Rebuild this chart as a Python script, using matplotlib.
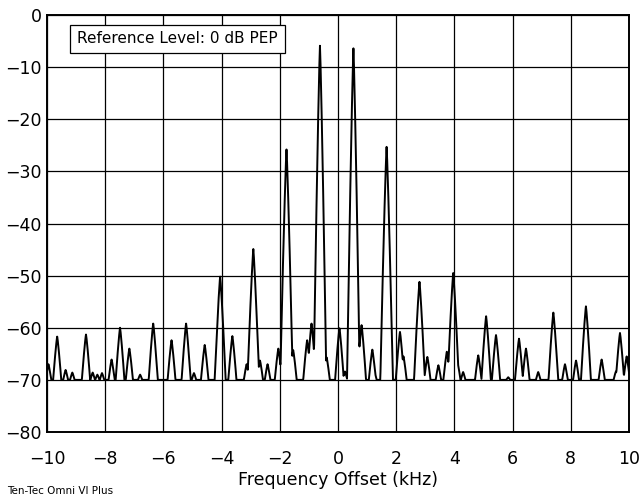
import numpy as np
import matplotlib
matplotlib.use("Agg")
import matplotlib.pyplot as plt

plt.rcParams['font.family'] = ['DejaVu Sans']

# spectral lines: offset (kHz) and level (dB rel. PEP)
peak_khz = [-9.95, -9.65, -9.36, -9.13, -8.66, -8.43, -8.27, -8.11, -7.78, -7.49,
            -7.17, -6.80, -6.35, -5.72, -5.22, -4.95, -4.58, -4.05, -3.63, -3.14,
            -2.91, -2.68, -2.42, -2.05, -1.77, -1.54, -1.06, -0.91, -0.62, -0.39,
            0.05, 0.24, 0.53, 0.81, 1.18, 1.25, 1.67, 2.13, 2.25, 2.80,
            3.07, 3.45, 3.74, 3.96, 4.11, 4.30, 4.82, 5.09, 5.43, 5.85,
            6.22, 6.46, 6.88, 7.40, 7.80, 8.18, 8.52, 9.06, 9.55, 9.69, 9.92]
peak_db = [-67.0, -61.7, -68.1, -68.6, -61.3, -68.6, -69.0, -68.7, -66.1, -60.0,
           -64.0, -69.0, -59.2, -62.4, -59.2, -68.7, -63.3, -50.2, -61.6, -67.0,
           -44.9, -66.3, -67.0, -64.0, -25.8, -64.3, -62.4, -59.2, -5.9, -65.7,
           -60.1, -68.4, -6.4, -59.5, -64.2, -68.4, -25.3, -60.8, -65.5, -51.2,
           -65.6, -67.2, -64.6, -49.5, -66.7, -68.5, -65.3, -57.8, -61.4, -69.5,
           -62.1, -64.0, -68.5, -57.1, -67.0, -66.3, -55.9, -66.1, -68.4, -61.0, -65.5]
floor_db = -70.0

x_ticks = np.arange(-10, 11, 2)
y_ticks = np.arange(-80, 1, 10)

# build the displayed trace from the line list
freq = np.linspace(-10, 10, 2001)
trace = np.full_like(freq, floor_db)
for f0, p in zip(peak_khz, peak_db):
    h = p - floor_db
    w = 0.06 + 0.16 * (1 - np.exp(-h / 12.0))
    u = np.abs(freq - f0) / w
    shape = np.where(u < 1, p - h * u ** 1.2, floor_db)
    trace = np.maximum(trace, shape)

fig = plt.figure(figsize=(6.42, 4.98), dpi=100)
ax = fig.add_axes([47 / 642, 1 - 432 / 498, 582 / 642, 417 / 498])

ax.plot(freq, trace, color='black', lw=1.4, zorder=3)

ax.set_xlim(-10, 10)
ax.set_ylim(-80, 0)
ax.set_xticks(x_ticks)
ax.set_yticks(y_ticks)
ax.grid(True, color='black', lw=0.9)
ax.tick_params(length=0, labelsize=12.5)
ax.tick_params(axis='x', pad=13)
ax.tick_params(axis='y', pad=4)
for s in ax.spines.values():
    s.set_linewidth(1.4)
ax.set_xlabel('Frequency Offset (kHz)', fontsize=12.5, labelpad=2)

ax.text(-8.96, -4.6, 'Reference Level: 0 dB PEP', fontsize=11, va='center', ha='left',
        bbox=dict(boxstyle='square,pad=0.45', fc='white', ec='black', lw=0.9), zorder=4)

fig.text(7 / 642, 1 - 486 / 498, 'Ten-Tec Omni VI Plus', fontsize=7.5, va='top', ha='left')

fig.savefig('out.png', dpi=100)
